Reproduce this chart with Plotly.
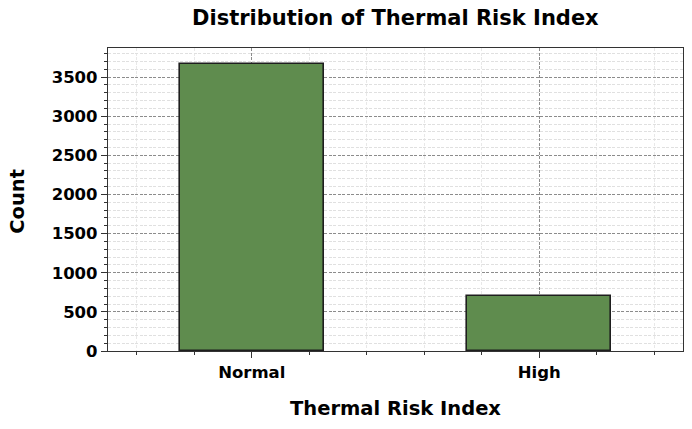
import plotly.graph_objects as go

categories = ["Normal", "High"]
counts = [3672, 703]
positions = [0, 1]

FONT = "DejaVu Sans"
fig = go.Figure()
fig.add_trace(go.Bar(
    x=positions, y=counts, width=0.5,
    marker=dict(color="#5f8c4e", line=dict(color="#1e1e1e", width=1.6)),
    hoverinfo="skip",
))

fig.update_layout(
    width=692, height=429,
    margin=dict(l=108, r=9, t=48, b=78, autoexpand=False),
    plot_bgcolor="white", paper_bgcolor="white",
    showlegend=False,
    bargap=0,
    annotations=[
        dict(text="<b>Distribution of Thermal Risk Index</b>", xref="paper", yref="paper",
             x=0.5, y=1.099, xanchor="center", yanchor="middle", showarrow=False,
             font=dict(family=FONT, size=21, color="black")),
        dict(text="<b>Thermal Risk Index</b>", xref="paper", yref="paper",
             x=0.5, y=-0.191, xanchor="center", yanchor="middle", showarrow=False,
             font=dict(family=FONT, size=19.5, color="black")),
        dict(text="<b>Count</b>", xref="paper", yref="paper", textangle=-90,
             x=-0.158, y=0.493, xanchor="center", yanchor="middle", showarrow=False,
             font=dict(family=FONT, size=19.5, color="black")),
    ],
)
fig.update_xaxes(
    automargin=False,
    range=[-0.5, 1.5], tickvals=positions, ticktext=[f"<b>{c}</b>" for c in categories],
    tickfont=dict(family=FONT, size=16.5, color="black"),
    ticks="outside", ticklen=6, tickwidth=1.2, tickcolor="#333",
    showline=True, linecolor="#333", linewidth=1.2, mirror=True,
    showgrid=True, gridcolor="#8c8c8c", griddash="3px,1.5px", gridwidth=0.8,
    zeroline=False,
    minor=dict(dtick=0.2, tick0=0, ticks="outside", ticklen=3, tickcolor="#333",
               showgrid=True, gridcolor="#e8e8e8", griddash="3px,1.5px", gridwidth=0.6),
)
fig.update_yaxes(
    automargin=False,
    range=[0, 3871], dtick=500, tick0=0,
    tickfont=dict(family=FONT, size=16.5, color="black"),
    tickprefix="<b>", ticksuffix="</b>",
    ticks="outside", ticklen=6, tickwidth=1.2, tickcolor="#333",
    showline=True, linecolor="#333", linewidth=1.2, mirror=True,
    showgrid=True, gridcolor="#8c8c8c", griddash="3px,1.5px", gridwidth=0.8,
    zeroline=False,
    minor=dict(dtick=100, tick0=0, ticks="outside", ticklen=3, tickcolor="#333",
               showgrid=True, gridcolor="#e0e0e0", griddash="3px,1.5px", gridwidth=0.6),
)

fig.write_html("out.html", config={"displayModeBar": False},
               post_script="document.body.style.margin='0';document.body.style.overflow='hidden';")
